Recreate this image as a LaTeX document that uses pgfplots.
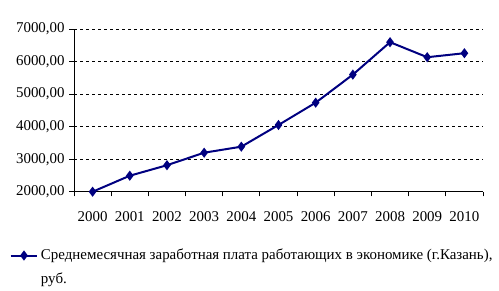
\documentclass[border=0pt]{standalone}
\usepackage{pgfplots}
\pgfplotsset{compat=1.18}
\usepackage{fontspec}
\setmainfont{Liberation Serif}
\definecolor{navyline}{RGB}{0,0,128}
\begin{document}
\begin{tikzpicture}[font=\fontsize{11.2}{13.5}\selectfont]
\path[use as bounding box] (0,0) rectangle (374.25pt,217.5pt);
\begin{axis}[
  at={(55.5pt,73.7pt)}, anchor=south west,
  scale only axis, width=306.75pt, height=122pt,
  xmin=0, xmax=11, ymin=2000, ymax=7000,
  axis x line*=bottom, axis y line*=left,
  axis line style={-, line width=0.75pt, black},
  xtick={0,1,2,3,4,5,6,7,8,9,10,11},
  xticklabels={2000,2001,2002,2003,2004,2005,2006,2007,2008,2009,2010},
  x tick label as interval,
  ytick={2000,3000,4000,5000,6000,7000},
  yticklabels={{2000,00},{3000,00},{4000,00},{5000,00},{6000,00},{7000,00}},
  tick align=outside, major tick length=3.5pt,
  tick style={black, line width=0.75pt},
  ymajorgrids,
  major grid style={black, dash pattern=on 2.25pt off 2.25pt, line width=0.75pt},
  xticklabel style={yshift=-7.5pt},
  legend style={at={(axis description cs:-0.158,-0.335)}, anchor=north west, draw=none, fill=none, inner sep=0pt},
  legend cell align=left,
  legend image code/.code={
    \draw[#1, mark=none] (0pt,0pt) -- (20pt,0pt);
    \draw[#1, only marks] plot coordinates {(10pt,0pt)};
  },
]
\addplot[navyline, line width=1.5pt, mark=diamond*, mark size=2.6pt, mark options={fill=navyline}] coordinates {
(0.5,2000) (1.5,2492) (2.5,2815) (3.5,3200) (4.5,3385) (5.5,4052) (6.5,4738) (7.5,5600) (8.5,6597) (9.5,6135) (10.5,6258)};
\addlegendentry{\parbox[t]{345pt}{\fontsize{11.2}{18}\selectfont Среднемесячная заработная плата работающих в экономике (г.Казань),\\руб.}}
\end{axis}
\end{tikzpicture}
\end{document}
